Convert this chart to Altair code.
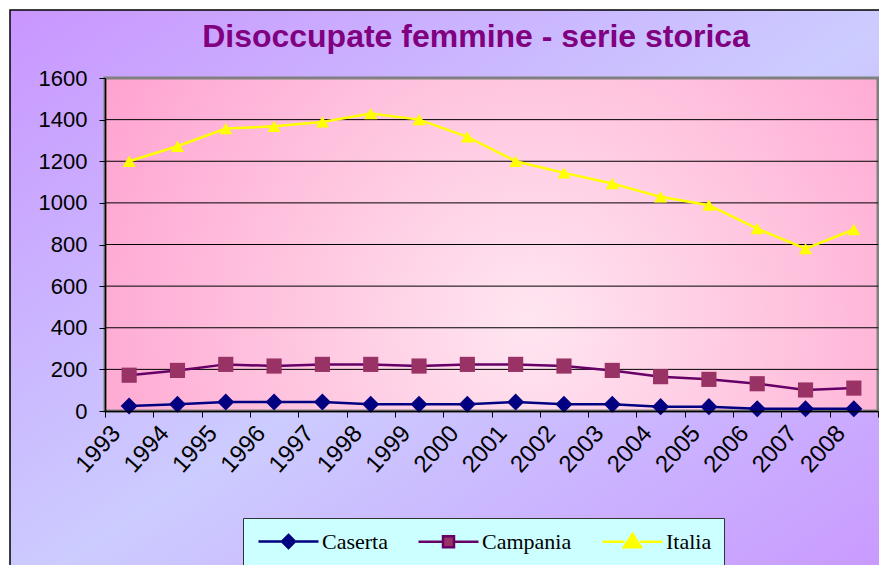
import altair as alt
import pandas as pd

# ---- data ----
years = [str(y) for y in range(1993, 2009)]
series_names = ["Caserta", "Campania", "Italia"]
caserta = [24, 32, 43, 43, 43, 32, 32, 32, 43, 32, 32, 21, 21, 11, 11, 11]
campania = [172, 195, 224, 216, 224, 224, 216, 224, 224, 216, 195, 165, 152, 131, 101, 110]
italia = [1200, 1272, 1357, 1368, 1389, 1429, 1400, 1317, 1200, 1144, 1093, 1029, 989, 876, 780, 872]
y_ticks = [0, 200, 400, 600, 800, 1000, 1200, 1400, 1600]
grid_values = [200, 400, 600, 800, 1000, 1200, 1400]
title_text = "Disoccupate femmine - serie storica"

line_colors = ["#000080", "#660066", "#FFFF00"]
marker_colors = ["#000080", "#993366", "#FFFF00"]
marker_shapes = ["diamond", "square", "triangle-up"]
marker_sizes = [290, 170, 330]
legend_paths = [
    "M-3,0H-0.65M0.65,0H3M0,-0.65L0.65,0L0,0.65L-0.65,0Z",
    "M-3,0H-0.55M0.55,0H3M-0.55,-0.55H0.55V0.55H-0.55Z",
    "M-3,0H-0.8M0.8,0H3M0,-0.8L0.85,0.55H-0.85Z",
]

rows = []
for name, vals in zip(series_names, [caserta, campania, italia]):
    for yr, v in zip(years, vals):
        rows.append({"anno": yr, "serie": name, "valore": v})
df = pd.DataFrame(rows)

W, H = 773, 333
one = pd.DataFrame({"k": [0]})

outer_bg = alt.Chart(one).mark_rect(
    fill=alt.LinearGradient(
        gradient="linear",
        stops=[alt.GradientStop(color="#C996FF", offset=0),
               alt.GradientStop(color="#CCCCFF", offset=0.5),
               alt.GradientStop(color="#C996FF", offset=1)],
        x1=0, y1=0, x2=1, y2=1),
    stroke="#000000", strokeWidth=1.5,
).encode(x=alt.value(-95), x2=alt.value(800), y=alt.value(-68), y2=alt.value(520))

plot_bg = alt.Chart(one).mark_rect(
    fill=alt.RadialGradient(
        gradient="radial",
        stops=[alt.GradientStop(color="#FFE6F1", offset=0),
               alt.GradientStop(color="#FFC4DF", offset=0.45),
               alt.GradientStop(color="#FF99CC", offset=1)],
        x1=0.55, y1=0.6, r1=0, x2=0.55, y2=0.6, r2=0.72),
    stroke="#808080", strokeWidth=3,
).encode(x=alt.value(0), x2=alt.value(W), y=alt.value(0), y2=alt.value(H))

title_layer = alt.Chart(one).mark_text(
    text=title_text, font="Liberation Sans", fontSize=32, fontWeight="bold",
    color="#800080", align="center", baseline="alphabetic",
).encode(x=alt.value(371), y=alt.value(-31))

yscale = alt.Scale(domain=[0, 1600], nice=False, zero=True)
xscale = alt.Scale(domain=years, paddingInner=0, paddingOuter=0)

yaxis = alt.Axis(values=y_ticks, grid=False, format="d", labelFont="Liberation Sans",
                 labelFontSize=22, labelColor="#000000", labelPadding=12,
                 tickSize=6, tickColor="#000000", domainColor="#000000",
                 domainWidth=1.5, zindex=1)

grid = alt.Chart(pd.DataFrame({"g": grid_values})).mark_rule(
    color="#000000", strokeWidth=1
).encode(y=alt.Y("g:Q", scale=yscale, axis=yaxis, title=None))

base = alt.Chart(df)
xenc = alt.X("anno:N", scale=xscale, sort=years, title=None,
             axis=alt.Axis(labelAngle=-48, labelAlign="right", labelBaseline="top",
                           labelFont="Liberation Sans", labelFontSize=24, labelColor="#000000",
                           labelOffset=-22, labelPadding=4,
                           tickBand="extent", tickSize=6, tickColor="#000000",
                           domainColor="#000000", domainWidth=1.5, zindex=1))
yenc = alt.Y("valore:Q", scale=yscale, title=None, axis=yaxis)

lines = base.mark_line(strokeWidth=2.5).encode(
    x=xenc, y=yenc,
    stroke=alt.Stroke("serie:N", scale=alt.Scale(domain=series_names, range=line_colors), legend=None),
    detail="serie:N",
)

points = base.mark_point(filled=True, opacity=1).encode(
    x=xenc, y=yenc,
    fill=alt.Fill("serie:N", scale=alt.Scale(domain=series_names, range=marker_colors), legend=None),
    shape=alt.Shape("serie:N", scale=alt.Scale(domain=series_names, range=marker_shapes), legend=None),
    size=alt.Size("serie:N", scale=alt.Scale(domain=series_names, range=marker_sizes), legend=None),
)

leg = alt.Legend(orient="none", legendX=138, legendY=440, direction="horizontal", title=None,
                 fillColor="#CCFFFF", strokeColor="#333333", padding=12,
                 symbolSize=400, symbolStrokeWidth=2.5, symbolOffset=22, symbolOpacity=1,
                 labelOffset=22, labelFont="Liberation Serif", labelFontSize=22,
                 labelColor="#000000", columnPadding=25)

legend_layer = base.mark_point(filled=True, opacity=0).encode(
    x=alt.X("anno:N", scale=xscale, sort=years),
    y=alt.Y("valore:Q", scale=yscale),
    fill=alt.Fill("serie:N", scale=alt.Scale(domain=series_names, range=marker_colors), legend=leg),
    stroke=alt.Stroke("serie:N", scale=alt.Scale(domain=series_names, range=line_colors), legend=leg),
    shape=alt.Shape("serie:N", scale=alt.Scale(domain=series_names, range=legend_paths), legend=leg),
)

chart = alt.layer(outer_bg, plot_bg, title_layer, grid, lines, points, legend_layer).resolve_scale(
    shape="independent", fill="independent", stroke="independent", size="independent"
).properties(
    width=W, height=H,
    padding={"left": 97, "top": 70, "right": 1, "bottom": 154},
    autosize=alt.AutoSizeParams(type="none"),
).configure(background="#FFFFFF").configure_view(stroke=None)

chart.save("out.html", embed_options={"renderer": "svg", "actions": False})
